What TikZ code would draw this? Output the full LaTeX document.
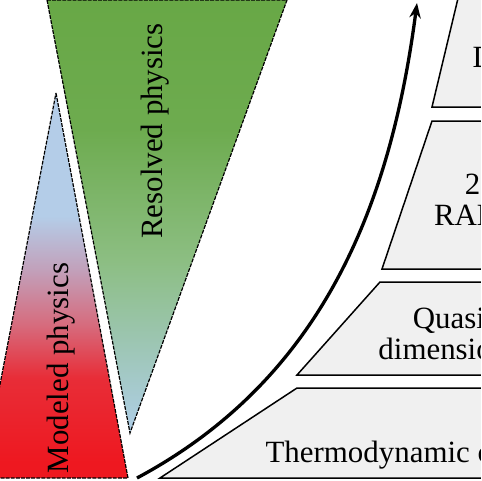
\documentclass[tikz,border=0pt]{standalone}
\usepackage{fontspec}
\setmainfont{Liberation Serif}
\usetikzlibrary{arrows.meta}
\definecolor{resgreen}{RGB}{104,168,70}
\definecolor{resmid}{RGB}{140,190,130}
\definecolor{resblue}{RGB}{175,206,232}
\definecolor{modblue}{RGB}{180,205,232}
\definecolor{modmauve}{RGB}{194,160,186}
\definecolor{modpink}{RGB}{214,108,126}
\definecolor{modred}{RGB}{238,24,32}
\definecolor{levelfill}{RGB}{240,240,240}
\pgfdeclareverticalshading{resolvedshade}{100bp}{color(0bp)=(resblue); color(25bp)=(resblue);
  color(45bp)=(resmid); color(60bp)=(resgreen!85!resmid); color(75bp)=(resgreen); color(100bp)=(resgreen)}
\pgfdeclareverticalshading{modeledshade}{100bp}{color(0bp)=(modred); color(27bp)=(modred);
  color(38bp)=(modred!75!modpink); color(45bp)=(modpink); color(52bp)=(modmauve);
  color(59bp)=(modblue); color(100bp)=(modblue)}

\begin{document}
\begin{tikzpicture}[
  x=0.3333pt, y=-0.3333pt,
  font=\fontsize{10.3}{10.5}\selectfont,
  physics/.style={draw=black, line width=0.4pt, dash pattern=on 1.3pt off 0.4pt, shade},
  level/.style={draw=black, line width=0.5pt, fill=levelfill},
  levellabel/.style={align=center, inner sep=0pt},
  trend/.style={-{Stealth[length=5pt,width=3.8pt]}, line width=1.1pt}
]
\useasboundingbox (0,0) rectangle (481,481);
\clip (0,0) rectangle (481,481);

% resolved vs modeled physics
\path[physics, shading=resolvedshade] (47,0) -- (287,0) -- (130,433) -- cycle;
\path[physics, shading=modeledshade] (56,93) -- (128,478) -- (-18,478) -- cycle;
\node[rotate=90, anchor=base] (resolved) at (163,131) {Resolved physics};
\node[rotate=90, anchor=base] (modeled) at (68,368) {Modeled physics};

% model levels
\path[level] (297,388) -- (520,388) -- (520,478) -- (160,478) -- cycle;
\path[level] (380,282) -- (520,282) -- (520,375) -- (297,375) -- cycle;
\path[level] (432,121) -- (520,121) -- (520,269) -- (382,269) -- cycle;
\path[level] (460,-10) -- (520,-10) -- (520,107) -- (432,107) -- cycle;

\node[levellabel, anchor=base west] (thermo) at (265,462) {Thermodynamic cycle};
\node[levellabel] (quasi) at (454,334) {Quasi-\\dimensional};
\node[levellabel] (rans) at (507,200) {2D/3D\\RANS/LES};
\node[levellabel, anchor=base west] (dns) at (472,67) {DNS};

% fidelity arrow
\coordinate (lowfid) at (137,478);
\coordinate (highfid) at (417,3);
\draw[trend] (lowfid) .. controls (320,380) and (390,210) .. (highfid);
\end{tikzpicture}
\end{document}
